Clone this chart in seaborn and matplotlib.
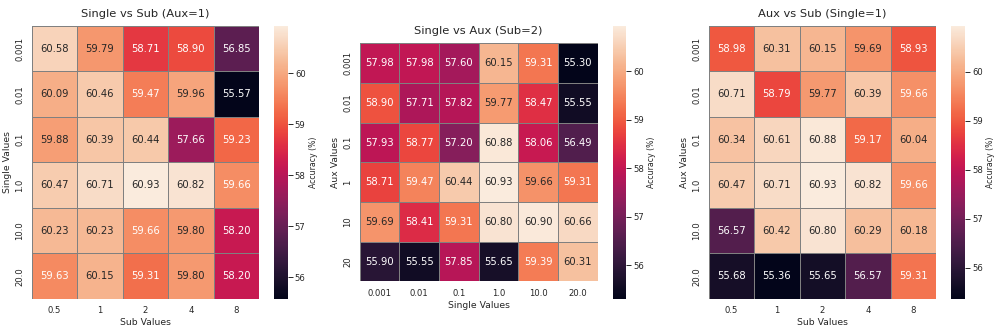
import numpy as np
import pandas as pd
import matplotlib
matplotlib.use("Agg")
import matplotlib.pyplot as plt
import seaborn as sns

# === Axis values ===
single_vals = ["0.001", "0.01", "0.1", "1.0", "10.0", "20.0"]
sub_vals = ["0.5", "1", "2", "4", "8"]
aux_vals_int = ["0.001", "0.01", "0.1", "1", "10", "20"]
aux_vals = ["0.001", "0.01", "0.1", "1.0", "10.0", "20.0"]

# === Single vs Sub (Aux=1): rows = single, cols = sub ===
single_sub = [
    [60.58, 59.79, 58.71, 58.90, 56.85],
    [60.09, 60.46, 59.47, 59.96, 55.57],
    [59.88, 60.39, 60.44, 57.66, 59.23],
    [60.47, 60.71, 60.93, 60.82, 59.66],
    [60.23, 60.23, 59.66, 59.80, 58.20],
    [59.63, 60.15, 59.31, 59.80, 58.20],
]

# === Single vs Aux (Sub=2): rows = aux, cols = single ===
single_aux = [
    [57.98, 57.98, 57.60, 60.15, 59.31, 55.30],
    [58.90, 57.71, 57.82, 59.77, 58.47, 55.55],
    [57.93, 58.77, 57.20, 60.88, 58.06, 56.49],
    [58.71, 59.47, 60.44, 60.93, 59.66, 59.31],
    [59.69, 58.41, 59.31, 60.80, 60.90, 60.66],
    [55.90, 55.55, 57.85, 55.65, 59.39, 60.31],
]

# === Aux vs Sub (Single=1): rows = aux, cols = sub ===
aux_sub = [
    [58.98, 60.31, 60.15, 59.69, 58.93],
    [60.71, 58.79, 59.77, 60.39, 59.66],
    [60.34, 60.61, 60.88, 59.17, 60.04],
    [60.47, 60.71, 60.93, 60.82, 59.66],
    [56.57, 60.42, 60.80, 60.29, 60.18],
    [55.68, 55.36, 55.65, 56.57, 59.31],
]

panels = [
    (pd.DataFrame(single_sub, index=single_vals, columns=sub_vals),
     "Single vs Sub (Aux=1)", "Sub Values", "Single Values"),
    (pd.DataFrame(single_aux, index=aux_vals_int, columns=single_vals),
     "Single vs Aux (Sub=2)", "Single Values", "Aux Values"),
    (pd.DataFrame(aux_sub, index=aux_vals, columns=sub_vals),
     "Aux vs Sub (Single=1)", "Sub Values", "Aux Values"),
]

sns.set_theme(style="white")

# === Plot heatmaps ===
fig, axes = plt.subplots(1, 3, figsize=(18, 5.975))
fig.subplots_adjust(left=0.0211, right=0.9985, top=0.9215, bottom=0.0967, wspace=0.138)

for ax, (df, title, xlabel, ylabel) in zip(axes, panels):
    sns.heatmap(df, ax=ax, annot=True, fmt=".2f", cmap="rocket",
                square=True, linewidths=1, linecolor="gray",
                annot_kws={"size": 13},
                cbar_kws={"label": "Accuracy (%)"})
    ax.set_title(title, fontsize=15, pad=12)
    ax.set_xlabel(xlabel, fontsize=12)
    ax.set_ylabel(ylabel, fontsize=12)
    ax.tick_params(labelsize=11)
    cbar = ax.collections[0].colorbar
    cbar.ax.tick_params(labelsize=11)
    cbar.set_label("Accuracy (%)", fontsize=10)

plt.savefig("out.png", dpi=55.4)
plt.close()
